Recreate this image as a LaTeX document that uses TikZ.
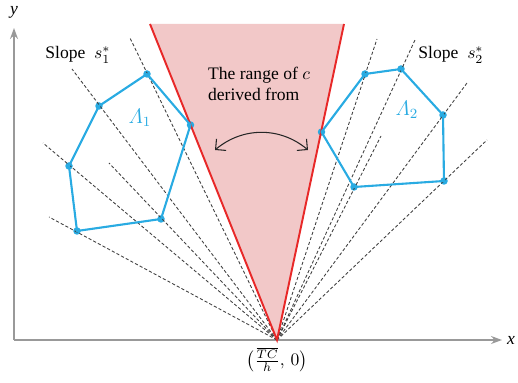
\documentclass[tikz,border=0pt]{standalone}
\usepackage{amsmath}
\usepackage{fontspec}
\setmainfont{Liberation Serif}
\usepackage{xcolor}
\usetikzlibrary{arrows.meta, positioning, calc}
\definecolor{rangepink}{RGB}{242,200,200}
\definecolor{rangered}{RGB}{232,40,40}
\definecolor{polyblue}{RGB}{41,171,226}

\begin{document}
\begin{tikzpicture}[
  axis/.style={-{Stealth[length=2.2mm, width=1.6mm]}, draw=black!40, line width=0.7pt},
  bound/.style={draw=rangered, line width=1.1pt},
  slopeline/.style={draw=black!75, line width=0.5pt, dash pattern=on 1.8pt off 1.2pt},
  poly/.style={draw=polyblue, line width=1.2pt, line join=round},
  vtx/.style={circle, fill=polyblue, inner sep=0pt, minimum size=1.5mm},
  lbl/.style={font=\normalsize, inner sep=1pt},
  >=Stealth
]
  \useasboundingbox (0,0) rectangle (10.36,7.66);

  % Axes
  \coordinate (origin) at (0.28,0.86);
  \coordinate (ytip) at (0.28,7.10);
  \coordinate (xtip) at (10.04,0.86);
  \coordinate (apex) at (5.54,0.86);
  \draw[axis] (origin) -- (ytip);
  \draw[axis] (origin) -- (xtip);
  \node[lbl] (ylab) at (0.28,7.42) {\textit{y}};
  \node[lbl] (xlab) at (10.22,0.86) {\textit{x}};
  \node[lbl, below=0.1 of apex] (apexlab) {$\bigl(\frac{\overline{TC}}{h},\, 0\bigr)$};

  % Range of c
  \coordinate (cleft) at (3.00,7.18);
  \coordinate (cright) at (6.88,7.18);
  \fill[rangepink] (apex) -- (cleft) -- (cright) -- cycle;

  % Left polygon
  \node[vtx] (a1) at (2.94,6.18) {};
  \node[vtx] (a2) at (3.81,5.16) {};
  \node[vtx] (a3) at (3.22,3.28) {};
  \node[vtx] (a4) at (1.54,3.04) {};
  \node[vtx] (a5) at (1.38,4.34) {};
  \node[vtx] (a6) at (1.98,5.54) {};

  % Right polygon
  \node[vtx] (b1) at (6.43,5.02) {};
  \node[vtx] (b2) at (7.30,6.18) {};
  \node[vtx] (b3) at (8.02,6.28) {};
  \node[vtx] (b4) at (8.86,5.36) {};
  \node[vtx] (b5) at (8.88,4.04) {};
  \node[vtx] (b6) at (7.08,3.92) {};

  % Slope lines through the vertices
  \coordinate (l1) at (2.60,6.90);
  \coordinate (l2) at (1.44,6.28);
  \coordinate (l3) at (0.86,4.80);
  \coordinate (l4) at (0.98,3.32);
  \coordinate (l5) at (2.18,4.40);
  \coordinate (r1) at (7.54,6.88);
  \coordinate (r2) at (8.30,6.86);
  \coordinate (r3) at (9.34,6.00);
  \coordinate (r4) at (9.74,4.86);
  \coordinate (r5) at (7.62,4.94);
  \draw[slopeline] (apex) -- (l1);
  \draw[slopeline] (apex) -- (l2);
  \draw[slopeline] (apex) -- (l3);
  \draw[slopeline] (apex) -- (l4);
  \draw[slopeline] (apex) -- (l5);
  \draw[slopeline] (apex) -- (r1);
  \draw[slopeline] (apex) -- (r2);
  \draw[slopeline] (apex) -- (r3);
  \draw[slopeline] (apex) -- (r4);
  \draw[slopeline] (apex) -- (r5);

  % Bounds of the range
  \draw[bound] (cleft) -- (apex) -- (cright);

  \draw[poly] (a1.center) -- (a2.center) -- (a3.center) -- (a4.center)
    -- (a5.center) -- (a6.center) -- cycle;
  \draw[poly] (b1.center) -- (b2.center) -- (b3.center) -- (b4.center)
    -- (b5.center) -- (b6.center) -- cycle;

  % Labels
  \node[lbl, text=polyblue, font=\large] (lam1) at (2.80,5.30) {$\varLambda_1$};
  \node[lbl, text=polyblue, font=\large] (lam2) at (8.14,5.46) {$\varLambda_2$};
  \node[lbl] (slope1) at (1.56,6.56) {Slope\enspace$s_1^*$};
  \node[lbl] (slope2) at (9.02,6.56) {Slope\enspace$s_2^*$};
  \node[lbl, align=left] (rangetxt) at (5.18,5.98) {The range of $c$\\derived from};

  % Curved arrow
  \coordinate (arrl) at (4.30,4.66);
  \coordinate (arrr) at (6.16,4.66);
  \draw[{Straight Barb[length=1.5mm]}-{Straight Barb[length=1.5mm]}, black!85, line width=0.6pt]
    (arrl) to[bend left=40] (arrr);
\end{tikzpicture}
\end{document}
